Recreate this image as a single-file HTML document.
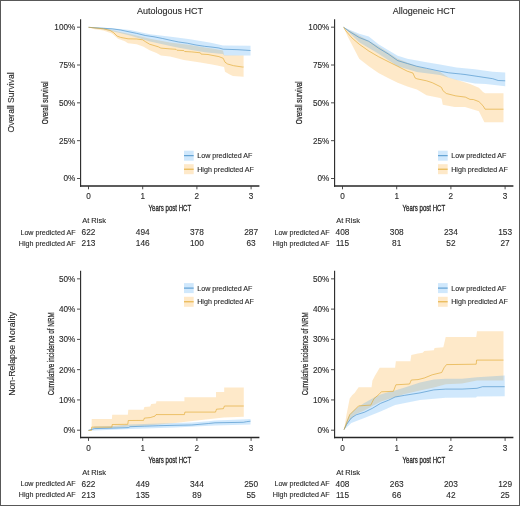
<!DOCTYPE html>
<html><head><meta charset="utf-8"><style>
html,body{margin:0;padding:0;background:#fff;}
svg{display:block;filter:blur(0.3px);}
text{font-family:"Liberation Sans", sans-serif;fill:#2a2a2a;stroke:#2a2a2a;stroke-width:0.12px;}
</style></head><body>
<svg width="520" height="506" viewBox="0 0 520 506">
<rect x="0" y="0" width="520" height="506" fill="#fff"/>
<polygon points="88.5,27.3 104.0,28.0 112.0,30.0 120.0,32.0 130.0,34.0 150.0,38.7 170.0,42.5 190.0,45.0 205.0,47.5 215.0,49.0 223.0,50.5 224.1,55.2 243.6,55.5 243.6,76.7 232.8,76.1 229.3,74.3 225.0,71.7 224.1,67.0 217.2,65.5 212.0,64.5 200.3,62.5 183.8,60.0 176.0,58.0 170.0,56.5 160.9,55.4 156.5,53.0 149.6,50.2 143.6,46.8 136.7,44.2 128.0,43.3 124.9,41.3 118.0,38.7 112.0,33.5 103.3,30.5 94.6,29.2 88.5,27.3" fill="#FAAF3C" fill-opacity="0.28"/>
<polygon points="88.5,27.3 104.0,27.8 120.0,29.0 130.0,30.0 150.0,34.3 175.0,37.2 190.0,39.3 205.0,41.7 212.0,43.0 223.0,45.4 250.5,45.8 250.5,55.4 224.1,55.4 223.0,54.0 212.0,53.0 205.0,52.3 190.0,49.8 175.0,47.0 150.0,41.5 130.0,35.5 120.0,33.0 104.0,29.5 88.5,27.3" fill="#2896F0" fill-opacity="0.22"/>
<polyline points="88.5,27.3 103.3,28.3 112.0,28.8 120.6,30.0 128.0,31.6 136.7,33.4 145.3,35.5 154.0,36.8 162.6,38.5 170.0,40.2 178.7,42.0 187.3,43.2 196.0,45.0 204.6,46.3 212.0,47.1 218.9,48.0 223.2,49.2 238.0,49.7 250.5,50.5" fill="none" stroke="#3E8BC6" stroke-width="0.75" stroke-opacity="0.8"/>
<polyline points="88.5,27.3 103.3,28.8 110.2,30.5 113.7,32.7 117.1,36.1 120.6,37.4 128.0,38.8 136.7,39.0 142.7,39.8 145.3,41.6 149.6,44.2 158.3,46.8 160.9,48.1 170.0,48.9 176.0,49.3 176.9,50.2 183.8,50.6 184.7,51.5 191.6,51.9 200.3,52.8 201.1,54.1 208.0,54.5 212.0,55.3 218.9,56.6 223.2,58.3 225.0,62.2 227.6,64.0 233.6,65.7 242.3,67.0 243.6,67.0" fill="none" stroke="#E0A526" stroke-width="0.75" stroke-opacity="0.8"/>
<path d="M80.60,19.20V186.70" fill="none" stroke="#262626" stroke-width="1.1"/>
<path d="M80.05,186.00H259.40" fill="none" stroke="#262626" stroke-width="1.5"/>
<path d="M77.00,178.50H80.60M77.00,140.67H80.60M77.00,102.84H80.60M77.00,65.01H80.60M77.00,27.18H80.60M88.50,186.00V189.30M142.70,186.00V189.30M196.90,186.00V189.30M251.10,186.00V189.30" stroke="#3a3a3a" stroke-width="0.9"/>
<text x="75.30" y="181.35" font-size="8.2" text-anchor="end" >0%</text>
<text x="75.30" y="143.52" font-size="8.2" text-anchor="end" >25%</text>
<text x="75.30" y="105.69" font-size="8.2" text-anchor="end" >50%</text>
<text x="75.30" y="67.86" font-size="8.2" text-anchor="end" >75%</text>
<text x="75.30" y="30.03" font-size="8.2" text-anchor="end" >100%</text>
<text x="88.50" y="198.60" font-size="8.2" text-anchor="middle" >0</text>
<text x="142.70" y="198.60" font-size="8.2" text-anchor="middle" >1</text>
<text x="196.90" y="198.60" font-size="8.2" text-anchor="middle" >2</text>
<text x="251.10" y="198.60" font-size="8.2" text-anchor="middle" >3</text>
<text x="170.00" y="14.40" font-size="9" text-anchor="middle" >Autologous HCT</text>
<text x="148.60" y="211.20" font-size="8.8" textLength="42.6" lengthAdjust="spacingAndGlyphs" style="stroke-width:0.32px">Years post HCT</text>
<text transform="translate(48.10,102.80) rotate(-90)" x="-21.50" y="0" font-size="8.8" textLength="43.0" lengthAdjust="spacingAndGlyphs" style="stroke-width:0.25px">Overall survival</text>
<rect x="184" y="150.70" width="9.7" height="10" fill="#2896F0" fill-opacity="0.22"/>
<path d="M184,155.70h9.7" stroke="#3E8BC6" stroke-width="0.9"/>
<text x="197.20" y="158.10" font-size="7.15" text-anchor="start" >Low predicted AF</text>
<rect x="184" y="164.20" width="9.7" height="10" fill="#FAAF3C" fill-opacity="0.28"/>
<path d="M184,169.20h9.7" stroke="#E0A526" stroke-width="0.9"/>
<text x="197.20" y="171.60" font-size="7.15" text-anchor="start" >High predicted AF</text>
<text x="82.20" y="223.10" font-size="7.5" text-anchor="start" >At Risk</text>
<text x="75.60" y="234.60" font-size="7.15" text-anchor="end" >Low predicted AF</text>
<text x="75.60" y="245.70" font-size="7.15" text-anchor="end" >High predicted AF</text>
<text x="88.50" y="235.20" font-size="8.3" text-anchor="middle" >622</text>
<text x="88.50" y="246.10" font-size="8.3" text-anchor="middle" >213</text>
<text x="142.70" y="235.20" font-size="8.3" text-anchor="middle" >494</text>
<text x="142.70" y="246.10" font-size="8.3" text-anchor="middle" >146</text>
<text x="196.90" y="235.20" font-size="8.3" text-anchor="middle" >378</text>
<text x="196.90" y="246.10" font-size="8.3" text-anchor="middle" >100</text>
<text x="251.10" y="235.20" font-size="8.3" text-anchor="middle" >287</text>
<text x="251.10" y="246.10" font-size="8.3" text-anchor="middle" >63</text>
<polygon points="343.6,27.2 359.2,35.6 378.5,46.2 397.7,58.7 416.9,66.3 440.0,72.1 448.7,77.5 460.5,81.0 470.0,84.0 478.9,87.7 483.0,91.9 485.1,93.2 503.5,93.2 503.5,122.3 484.4,122.3 478.9,111.2 465.0,107.1 454.6,107.1 442.8,104.8 441.6,98.8 440.0,98.1 426.5,95.2 416.9,89.4 407.3,86.5 397.7,82.7 388.0,77.9 378.5,73.1 368.8,66.3 359.2,58.7 347.7,36.5 343.6,27.2" fill="#FAAF3C" fill-opacity="0.28"/>
<polygon points="343.6,27.2 359.2,33.7 368.8,36.5 378.5,44.2 388.0,50.0 397.7,55.8 407.3,58.7 416.9,60.6 425.0,62.0 440.0,64.4 456.5,67.4 474.8,69.2 492.7,71.8 505.2,72.5 505.2,86.3 485.8,84.0 474.8,83.5 456.5,80.0 440.0,75.0 416.9,72.1 397.7,66.3 378.5,53.8 359.2,42.3 343.6,27.2" fill="#2896F0" fill-opacity="0.22"/>
<polyline points="343.6,27.2 349.1,31.3 359.2,37.5 368.8,41.3 378.5,48.1 388.0,53.8 397.7,60.6 407.3,63.5 416.9,66.3 426.5,68.3 440.0,71.2 448.7,72.8 460.5,74.0 465.0,74.5 478.9,76.6 492.7,78.7 498.2,80.5 505.2,80.8" fill="none" stroke="#3E8BC6" stroke-width="0.75" stroke-opacity="0.8"/>
<polyline points="343.6,27.2 345.8,30.8 352.0,38.0 359.2,44.2 368.8,51.0 378.5,56.7 388.0,61.5 397.7,66.3 407.3,71.2 413.0,73.1 415.0,77.9 416.9,78.8 426.5,80.8 432.3,82.7 440.0,86.5 441.6,87.6 442.8,90.5 446.3,93.5 455.8,95.9 465.3,97.1 470.0,99.4 473.3,99.5 478.9,101.6 483.0,105.7 485.1,109.2 503.5,109.2" fill="none" stroke="#E0A526" stroke-width="0.75" stroke-opacity="0.8"/>
<path d="M334.60,19.20V186.70" fill="none" stroke="#262626" stroke-width="1.1"/>
<path d="M334.05,186.00H513.40" fill="none" stroke="#262626" stroke-width="1.5"/>
<path d="M331.00,178.50H334.60M331.00,140.67H334.60M331.00,102.84H334.60M331.00,65.01H334.60M331.00,27.18H334.60M342.50,186.00V189.30M396.70,186.00V189.30M450.90,186.00V189.30M505.10,186.00V189.30" stroke="#3a3a3a" stroke-width="0.9"/>
<text x="329.30" y="181.35" font-size="8.2" text-anchor="end" >0%</text>
<text x="329.30" y="143.52" font-size="8.2" text-anchor="end" >25%</text>
<text x="329.30" y="105.69" font-size="8.2" text-anchor="end" >50%</text>
<text x="329.30" y="67.86" font-size="8.2" text-anchor="end" >75%</text>
<text x="329.30" y="30.03" font-size="8.2" text-anchor="end" >100%</text>
<text x="342.50" y="198.60" font-size="8.2" text-anchor="middle" >0</text>
<text x="396.70" y="198.60" font-size="8.2" text-anchor="middle" >1</text>
<text x="450.90" y="198.60" font-size="8.2" text-anchor="middle" >2</text>
<text x="505.10" y="198.60" font-size="8.2" text-anchor="middle" >3</text>
<text x="424.00" y="14.40" font-size="9" text-anchor="middle" >Allogeneic HCT</text>
<text x="402.60" y="211.20" font-size="8.8" textLength="42.6" lengthAdjust="spacingAndGlyphs" style="stroke-width:0.32px">Years post HCT</text>
<text transform="translate(302.10,102.80) rotate(-90)" x="-21.50" y="0" font-size="8.8" textLength="43.0" lengthAdjust="spacingAndGlyphs" style="stroke-width:0.25px">Overall survival</text>
<rect x="438.0" y="150.70" width="9.7" height="10" fill="#2896F0" fill-opacity="0.22"/>
<path d="M438.0,155.70h9.7" stroke="#3E8BC6" stroke-width="0.9"/>
<text x="451.20" y="158.10" font-size="7.15" text-anchor="start" >Low predicted AF</text>
<rect x="438.0" y="164.20" width="9.7" height="10" fill="#FAAF3C" fill-opacity="0.28"/>
<path d="M438.0,169.20h9.7" stroke="#E0A526" stroke-width="0.9"/>
<text x="451.20" y="171.60" font-size="7.15" text-anchor="start" >High predicted AF</text>
<text x="336.20" y="223.10" font-size="7.5" text-anchor="start" >At Risk</text>
<text x="329.60" y="234.60" font-size="7.15" text-anchor="end" >Low predicted AF</text>
<text x="329.60" y="245.70" font-size="7.15" text-anchor="end" >High predicted AF</text>
<text x="342.50" y="235.20" font-size="8.3" text-anchor="middle" >408</text>
<text x="342.50" y="246.10" font-size="8.3" text-anchor="middle" >115</text>
<text x="396.70" y="235.20" font-size="8.3" text-anchor="middle" >308</text>
<text x="396.70" y="246.10" font-size="8.3" text-anchor="middle" >81</text>
<text x="450.90" y="235.20" font-size="8.3" text-anchor="middle" >234</text>
<text x="450.90" y="246.10" font-size="8.3" text-anchor="middle" >52</text>
<text x="505.10" y="235.20" font-size="8.3" text-anchor="middle" >153</text>
<text x="505.10" y="246.10" font-size="8.3" text-anchor="middle" >27</text>
<polygon points="88.4,430.4 91.5,430.4 91.7,418.9 111.9,418.9 112.2,414.8 127.8,414.8 128.3,409.8 143.5,409.8 144.4,407.0 150.2,406.6 151.2,404.1 156.0,403.6 156.4,401.2 184.4,401.2 184.4,397.3 216.0,397.3 216.0,391.9 224.2,391.9 224.2,387.5 243.8,387.5 243.8,416.8 223.7,417.4 208.0,419.2 192.5,421.0 175.0,423.0 156.0,424.8 143.5,425.8 128.3,426.6 111.9,427.9 91.7,428.2 91.5,430.4 88.4,430.4" fill="#FAAF3C" fill-opacity="0.28"/>
<polygon points="88.4,430.4 94.6,426.6 113.8,426.0 130.0,424.6 158.8,423.6 175.0,423.0 191.8,422.6 208.6,421.3 215.0,420.6 246.5,419.3 250.5,418.9 250.5,424.6 215.0,425.6 175.0,427.6 130.0,429.0 94.6,430.6 88.4,430.4" fill="#2896F0" fill-opacity="0.22"/>
<polyline points="88.4,430.4 94.6,428.6 113.8,428.1 128.3,427.6 130.0,426.7 144.4,426.2 158.8,425.7 175.0,425.3 191.8,425.0 208.6,423.5 215.0,422.8 243.3,422.3 246.5,421.7 250.5,421.2" fill="none" stroke="#3E8BC6" stroke-width="0.75" stroke-opacity="0.8"/>
<polyline points="88.4,430.4 91.5,430.4 91.7,427.1 111.9,427.1 112.2,424.5 127.8,424.3 128.3,420.5 143.5,420.4 144.4,418.1 150.2,417.6 155.0,416.1 156.0,414.6 184.4,414.6 184.9,412.1 215.5,412.1 216.5,409.2 223.4,408.7 224.4,406.0 243.8,406.0" fill="none" stroke="#E0A526" stroke-width="0.75" stroke-opacity="0.8"/>
<path d="M80.60,270.80V438.30" fill="none" stroke="#262626" stroke-width="1.1"/>
<path d="M80.05,437.60H259.40" fill="none" stroke="#262626" stroke-width="1.5"/>
<path d="M77.00,430.20H80.60M77.00,399.93H80.60M77.00,369.66H80.60M77.00,339.39H80.60M77.00,309.12H80.60M77.00,278.85H80.60M88.50,437.60V440.90M142.70,437.60V440.90M196.90,437.60V440.90M251.10,437.60V440.90" stroke="#3a3a3a" stroke-width="0.9"/>
<text x="75.30" y="433.05" font-size="8.2" text-anchor="end" >0%</text>
<text x="75.30" y="402.78" font-size="8.2" text-anchor="end" >10%</text>
<text x="75.30" y="372.51" font-size="8.2" text-anchor="end" >20%</text>
<text x="75.30" y="342.24" font-size="8.2" text-anchor="end" >30%</text>
<text x="75.30" y="311.97" font-size="8.2" text-anchor="end" >40%</text>
<text x="75.30" y="281.70" font-size="8.2" text-anchor="end" >50%</text>
<text x="88.50" y="450.70" font-size="8.2" text-anchor="middle" >0</text>
<text x="142.70" y="450.70" font-size="8.2" text-anchor="middle" >1</text>
<text x="196.90" y="450.70" font-size="8.2" text-anchor="middle" >2</text>
<text x="251.10" y="450.70" font-size="8.2" text-anchor="middle" >3</text>
<text x="148.60" y="462.80" font-size="8.8" textLength="42.6" lengthAdjust="spacingAndGlyphs" style="stroke-width:0.32px">Years post HCT</text>
<text transform="translate(53.50,353.80) rotate(-90)" x="-41.50" y="0" font-size="8.8" textLength="83.0" lengthAdjust="spacingAndGlyphs" style="stroke-width:0.25px">Cumulative incidence of NRM</text>
<rect x="184" y="283.10" width="9.7" height="10" fill="#2896F0" fill-opacity="0.22"/>
<path d="M184,288.10h9.7" stroke="#3E8BC6" stroke-width="0.9"/>
<text x="197.20" y="290.50" font-size="7.15" text-anchor="start" >Low predicted AF</text>
<rect x="184" y="296.80" width="9.7" height="10" fill="#FAAF3C" fill-opacity="0.28"/>
<path d="M184,301.80h9.7" stroke="#E0A526" stroke-width="0.9"/>
<text x="197.20" y="304.20" font-size="7.15" text-anchor="start" >High predicted AF</text>
<text x="82.20" y="474.70" font-size="7.5" text-anchor="start" >At Risk</text>
<text x="75.60" y="486.20" font-size="7.15" text-anchor="end" >Low predicted AF</text>
<text x="75.60" y="497.30" font-size="7.15" text-anchor="end" >High predicted AF</text>
<text x="88.50" y="486.80" font-size="8.3" text-anchor="middle" >622</text>
<text x="88.50" y="497.70" font-size="8.3" text-anchor="middle" >213</text>
<text x="142.70" y="486.80" font-size="8.3" text-anchor="middle" >449</text>
<text x="142.70" y="497.70" font-size="8.3" text-anchor="middle" >135</text>
<text x="196.90" y="486.80" font-size="8.3" text-anchor="middle" >344</text>
<text x="196.90" y="497.70" font-size="8.3" text-anchor="middle" >89</text>
<text x="251.10" y="486.80" font-size="8.3" text-anchor="middle" >250</text>
<text x="251.10" y="497.70" font-size="8.3" text-anchor="middle" >55</text>
<polygon points="344.0,429.7 346.5,414.8 349.7,398.6 352.1,395.3 354.6,392.9 358.6,387.2 371.6,387.2 372.4,380.8 374.8,375.9 379.7,367.8 395.1,367.8 395.9,361.3 410.4,361.3 411.3,354.9 418.0,353.5 422.7,352.7 424.3,351.1 433.8,350.3 434.6,347.9 443.3,347.2 444.1,344.0 445.7,336.9 476.2,336.9 477.0,331.3 503.5,331.3 503.5,380.4 477.0,380.4 462.0,383.5 445.7,384.3 433.8,387.5 420.0,390.5 404.8,394.0 395.1,397.0 388.6,399.0 380.5,401.8 372.4,406.0 364.3,410.5 356.2,414.0 349.7,420.0 344.0,429.7" fill="#FAAF3C" fill-opacity="0.28"/>
<polygon points="344.0,429.7 346.5,421.0 349.7,414.0 356.2,408.3 364.3,403.0 372.4,398.5 380.5,394.5 388.6,392.0 395.1,390.5 404.8,387.5 420.0,382.4 433.8,379.6 445.7,378.8 462.0,378.8 477.0,377.2 504.7,375.6 504.7,396.3 477.0,396.5 476.0,397.6 445.7,397.8 420.0,400.0 395.1,405.1 380.5,411.5 364.3,418.0 351.3,422.9 344.0,429.7" fill="#2896F0" fill-opacity="0.22"/>
<polyline points="344.0,429.7 346.5,424.5 351.3,418.0 356.2,414.8 364.3,412.3 372.4,408.3 380.5,403.4 388.6,400.2 395.1,397.0 404.8,395.3 420.0,392.9 433.8,389.9 445.7,389.1 462.0,389.1 477.0,388.3 482.6,386.7 504.7,386.7" fill="none" stroke="#3E8BC6" stroke-width="0.75" stroke-opacity="0.8"/>
<polyline points="344.0,429.7 349.7,414.8 356.2,408.3 358.6,405.9 370.8,405.1 374.0,398.6 378.9,394.5 381.3,391.8 393.4,391.3 395.9,384.8 409.6,384.0 411.3,380.0 418.0,379.6 424.3,378.0 432.2,374.8 441.7,372.5 444.1,367.7 446.5,364.6 476.2,364.2 476.6,360.1 503.5,360.1" fill="none" stroke="#E0A526" stroke-width="0.75" stroke-opacity="0.8"/>
<path d="M334.60,270.80V438.30" fill="none" stroke="#262626" stroke-width="1.1"/>
<path d="M334.05,437.60H513.40" fill="none" stroke="#262626" stroke-width="1.5"/>
<path d="M331.00,430.20H334.60M331.00,399.93H334.60M331.00,369.66H334.60M331.00,339.39H334.60M331.00,309.12H334.60M331.00,278.85H334.60M342.50,437.60V440.90M396.70,437.60V440.90M450.90,437.60V440.90M505.10,437.60V440.90" stroke="#3a3a3a" stroke-width="0.9"/>
<text x="329.30" y="433.05" font-size="8.2" text-anchor="end" >0%</text>
<text x="329.30" y="402.78" font-size="8.2" text-anchor="end" >10%</text>
<text x="329.30" y="372.51" font-size="8.2" text-anchor="end" >20%</text>
<text x="329.30" y="342.24" font-size="8.2" text-anchor="end" >30%</text>
<text x="329.30" y="311.97" font-size="8.2" text-anchor="end" >40%</text>
<text x="329.30" y="281.70" font-size="8.2" text-anchor="end" >50%</text>
<text x="342.50" y="450.70" font-size="8.2" text-anchor="middle" >0</text>
<text x="396.70" y="450.70" font-size="8.2" text-anchor="middle" >1</text>
<text x="450.90" y="450.70" font-size="8.2" text-anchor="middle" >2</text>
<text x="505.10" y="450.70" font-size="8.2" text-anchor="middle" >3</text>
<text x="402.60" y="462.80" font-size="8.8" textLength="42.6" lengthAdjust="spacingAndGlyphs" style="stroke-width:0.32px">Years post HCT</text>
<text transform="translate(307.50,353.80) rotate(-90)" x="-41.50" y="0" font-size="8.8" textLength="83.0" lengthAdjust="spacingAndGlyphs" style="stroke-width:0.25px">Cumulative incidence of NRM</text>
<rect x="438.0" y="283.10" width="9.7" height="10" fill="#2896F0" fill-opacity="0.22"/>
<path d="M438.0,288.10h9.7" stroke="#3E8BC6" stroke-width="0.9"/>
<text x="451.20" y="290.50" font-size="7.15" text-anchor="start" >Low predicted AF</text>
<rect x="438.0" y="296.80" width="9.7" height="10" fill="#FAAF3C" fill-opacity="0.28"/>
<path d="M438.0,301.80h9.7" stroke="#E0A526" stroke-width="0.9"/>
<text x="451.20" y="304.20" font-size="7.15" text-anchor="start" >High predicted AF</text>
<text x="336.20" y="474.70" font-size="7.5" text-anchor="start" >At Risk</text>
<text x="329.60" y="486.20" font-size="7.15" text-anchor="end" >Low predicted AF</text>
<text x="329.60" y="497.30" font-size="7.15" text-anchor="end" >High predicted AF</text>
<text x="342.50" y="486.80" font-size="8.3" text-anchor="middle" >408</text>
<text x="342.50" y="497.70" font-size="8.3" text-anchor="middle" >115</text>
<text x="396.70" y="486.80" font-size="8.3" text-anchor="middle" >263</text>
<text x="396.70" y="497.70" font-size="8.3" text-anchor="middle" >66</text>
<text x="450.90" y="486.80" font-size="8.3" text-anchor="middle" >203</text>
<text x="450.90" y="497.70" font-size="8.3" text-anchor="middle" >42</text>
<text x="505.10" y="486.80" font-size="8.3" text-anchor="middle" >129</text>
<text x="505.10" y="497.70" font-size="8.3" text-anchor="middle" >25</text>
<text transform="translate(14.40,102.40) rotate(-90)" x="-30.00" y="0" font-size="9.4" textLength="60.0" lengthAdjust="spacingAndGlyphs" >Overall Survival</text>
<text transform="translate(14.60,353.80) rotate(-90)" x="-42.00" y="0" font-size="9.4" textLength="84.0" lengthAdjust="spacingAndGlyphs" >Non-Relapse Morality</text>
<rect x="0.5" y="0.5" width="519" height="505" fill="none" stroke="#585858" stroke-width="1"/>
</svg>
</body></html>
